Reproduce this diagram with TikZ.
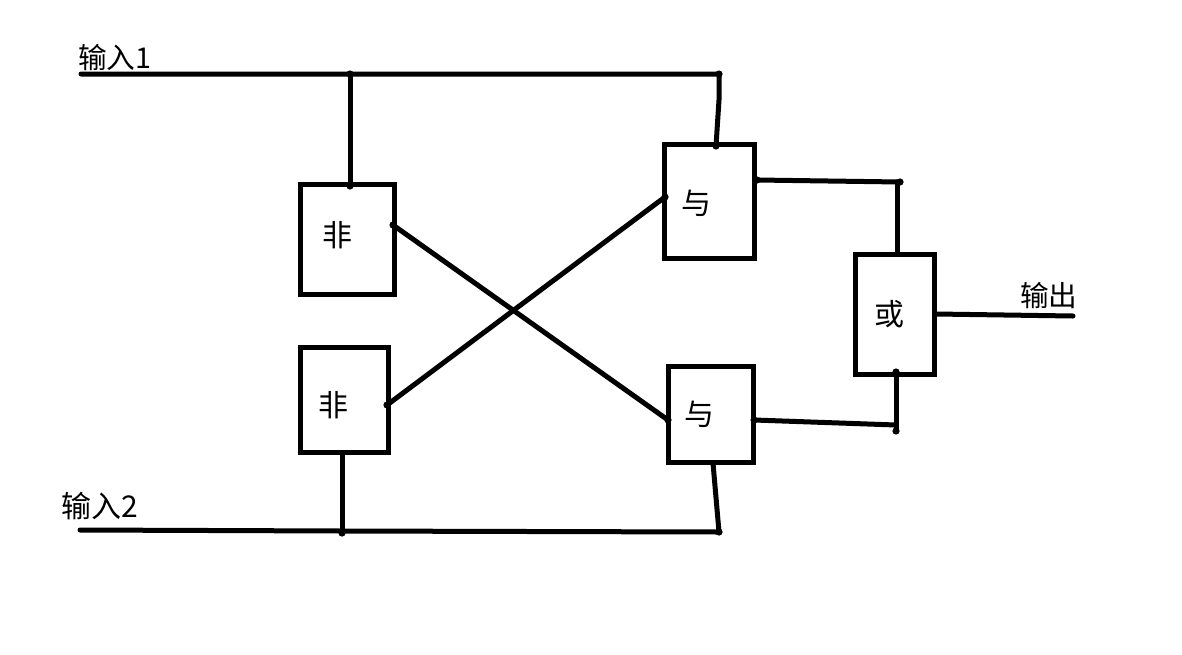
\documentclass[tikz,border=0pt]{standalone}
\usepackage{fontspec}
\newfontfamily\cjk{Noto Sans CJK SC}
\begin{document}
\begin{tikzpicture}[x=0.75pt,y=-0.75pt,
 gate/.style={draw=black,line width=3.75pt,inner sep=0pt,fill=none},
 wire/.style={draw=black,line width=3.75pt,line cap=round,line join=round},
 lbl/.style={inner sep=0pt,font=\cjk\fontsize{21.5}{24}\selectfont,text=black},
 lblb/.style={lbl,font=\cjk\fontsize{22.5}{24}\selectfont}]
\useasboundingbox (0,0) rectangle (1182,654);
\node[gate,minimum width=70.5pt,minimum height=82.5pt] (n1) at (347.5,239) {};
\node[gate,minimum width=66pt,minimum height=78.5pt] (n2) at (344,400) {};
\node[gate,minimum width=67.5pt,minimum height=85.5pt] (a1) at (709,201) {};
\node[gate,minimum width=63.75pt,minimum height=72pt] (a2) at (710.5,414) {};
\node[gate,minimum width=59.25pt,minimum height=90pt] (o) at (894.5,314) {};
\node[lblb] (t1) at (337,235) {非};
\node[lblb] (t2) at (333,405) {非};
\node[lblb] (t3) at (696,203) {与};
\node[lblb] (t4) at (699,414) {与};
\node[lblb] (t5) at (889,314) {或};
\node[lbl,anchor=west] (i1) at (78,58) {输入1};
\node[lblb,anchor=west] (i2) at (61,506) {输入2};
\node[lbl,anchor=west] (out) at (1020,296) {输出};
\coordinate (s1) at (81,74);
\coordinate (j1) at (350,74);
\coordinate (c1) at (719,74);
\coordinate (a1t) at (716,146);
\coordinate (n1t) at (350,186);
\coordinate (s2) at (80,530);
\coordinate (j2) at (342,533);
\coordinate (j2a) at (342,531);
\coordinate (c2) at (719,532);
\coordinate (a2b) at (713,463);
\coordinate (n1r) at (393,225);
\coordinate (a2l) at (668,420);
\coordinate (n2r) at (387,405);
\coordinate (a1l) at (665,197);
\coordinate (a1r) at (757,180);
\coordinate (r1) at (900,182);
\coordinate (a2r) at (754,420);
\coordinate (r2) at (896,425);
\coordinate (oT) at (897,182);
\coordinate (oB) at (896,431);
\coordinate (oBt) at (896,372);
\coordinate (oR) at (936,314);
\coordinate (e) at (1073,316);
\draw[wire] (s1) -- (c1) -- (719,100) -- (a1t);
\draw[wire] (j1) -- (n1t);
\draw[wire] (s2) -- (j2a) -- (c2) -- (a2b);
\draw[wire] (j2) -- (n2.south -| j2);
\draw[wire] (n1r) -- (a2l);
\draw[wire] (n2r) -- (a1l);
\draw[wire] (a1r) -- (r1);
\draw[wire] (a2r) -- (r2);
\draw[wire] (oT) -- (o.north -| oT);
\draw[wire] (oB) -- (oBt);
\draw[wire] (oR) -- (e);
\foreach \p in {j1,n1t,a1t,c1,n1r,a2l,n2r,a1l,r1,oB,oBt,c2,j2,a2r,a1r}
  \fill[black] (\p) circle (3.6);
\end{tikzpicture}
\end{document}
